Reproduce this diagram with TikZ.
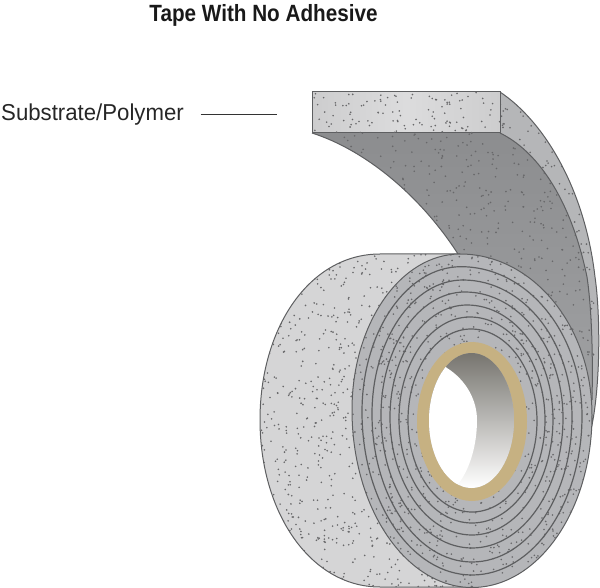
\documentclass[tikz,border=0pt]{standalone}
\usepackage{fontspec}
\setmainfont{Liberation Sans}
\newfontfamily\titlefont[FakeStretch=0.88]{Liberation Sans}
\newfontfamily\labelfont[FakeStretch=0.965]{Liberation Sans}
\begin{document}
\begin{tikzpicture}[x=1pt,y=-1pt,
  outline/.style={draw=linegray,line width=1pt},
  windline/.style={draw=linegray,line width=1.2pt},
  labeltext/.style={inner sep=0pt,anchor=base west,font=\labelfont\fontsize{23}{25}\selectfont,text=black!85},
  titletext/.style={inner sep=0pt,anchor=base,font=\titlefont\bfseries\fontsize{23.5}{25}\selectfont,text=black!90}]
\definecolor{linegray}{HTML}{5E5F61}
\definecolor{dotgray}{HTML}{68686A}
\definecolor{sidegray}{HTML}{D5D5D6}
\definecolor{ringgray}{HTML}{B5B6B9}
\definecolor{stripgray}{HTML}{B5B6B8}
\definecolor{undertop}{HTML}{8C8D8F}
\definecolor{underbot}{HTML}{A0A1A3}
\definecolor{facemid}{HTML}{DCDCDD}
\definecolor{faceend}{HTML}{CDCDCE}
\definecolor{coretan}{HTML}{C6B182}
\definecolor{holedark}{HTML}{77756F}
\useasboundingbox (0,0) rectangle (600,588);
\pgfmathsetseed{4711}
\def\specks#1#2#3#4#5{%
  \foreach \i in {1,...,#5}{%
    \pgfmathsetmacro{\px}{#1+rnd*(#3-#1)}%
    \pgfmathsetmacro{\py}{#2+rnd*(#4-#2)}%
    \fill[dotgray] (\px,\py) circle[radius=0.9];%
  }}
% one winding: top x,y / left x,y / bottom y / right x,y (bottom x is 472)
\def\blob#1#2#3#4#5#6#7{%
  (#1,#2) arc[start angle=-90,end angle=-180,x radius={#1-#3},y radius={#4-#2}]
  arc[start angle=-180,end angle=-270,x radius={472-#3},y radius={#5-#4}]
  arc[start angle=-270,end angle=-360,x radius={#6-472},y radius={#5-#7}]
  arc[start angle=-360,end angle=-450,x radius={#6-#1},y radius={#7-#2}] -- cycle}
\def\strippath{(500,92) .. controls (545,122) and (585,190) .. (595,277)
  .. controls (600,310) and (601,380) .. (592,425)
  -- (585,300) -- (500,133) -- cycle}
\def\underpath{(312,133) -- (500,133) .. controls (535,150) and (570,195) .. (587,277)
  .. controls (592,310) and (593,360) .. (592,400)
  -- (470,300) -- (458,254) .. controls (420,195) and (365,150) .. (312,133) -- cycle}
% outer part of the strip
\path[fill=stripgray,outline] \strippath;
\begin{scope}
\clip \strippath;
\specks{500}{92}{600}{425}{300}
\end{scope}
% underside of the strip
\path[top color=undertop,bottom color=underbot] \underpath;
\begin{scope}
\clip \underpath;
\specks{312}{133}{592}{400}{800}
\end{scope}
\draw[outline] (312,133) .. controls (365,150) and (420,195) .. (458,254);
\draw[outline] (500,133) .. controls (535,150) and (570,195) .. (587,277)
  .. controls (592,310) and (593,360) .. (592,400);
% top face of the strip
\path[left color=faceend,right color=faceend,middle color=facemid,outline]
  (312,92) rectangle (500,133);
\begin{scope}
\clip (312,92) rectangle (500,133);
\specks{312}{92}{500}{133}{110}
\end{scope}
% roll side
\path[fill=sidegray,outline]
  (460,254) -- (380,254) .. controls (310,254) and (260,327) .. (260,420)
  .. controls (260,512) and (310,587) .. (380,587) -- (470,587);
\begin{scope}
\clip (460,254) -- (380,254) .. controls (310,254) and (260,327) .. (260,420)
  .. controls (260,512) and (310,587) .. (380,587) -- (470,587) -- cycle;
\specks{260}{254}{472}{588}{1000}
\end{scope}
% roll front with windings
\path[fill=ringgray,outline] \blob{460}{254}{352}{410}{587.5}{592}{415};
\begin{scope}
\clip \blob{460}{254}{352}{410}{587.5}{592}{415};
\specks{352}{254}{592}{588}{1200}
\end{scope}
\foreach \tx/\ty/\lx/\ly/\by/\rx/\ry in {
  461/266.7/362/412/575/582/416,
  463/280/372/414/562/572/417,
  465/292/381/415/548/563/418,
  467/305/390/417/535/553/419,
  470/317/399/419/523/545/420,
  471/329/408/420/512/537/421}{
  \draw[windline] \blob{\tx}{\ty}{\lx}{\ly}{\by}{\rx}{\ry};
}
% core and hole
\path[fill=coretan,even odd rule] (472,421.5) ellipse[x radius=55,y radius=79.5]
  (471.5,420.5) ellipse[x radius=42.5,y radius=67.5];
\path[top color=holedark,bottom color=white] (471.5,420.5) ellipse[x radius=42.5,y radius=67.5];
\begin{scope}
\clip (471.5,420.5) ellipse[x radius=42.5,y radius=67.5];
\fill[white] (447,368) .. controls (466,380) and (477,400) .. (477,420)
  .. controls (477,445) and (470,468) .. (459,483)
  -- (400,520) -- (400,330) -- cycle;
\end{scope}
% labels
\node[titletext] (title) at (263.5,22) {Tape With No Adhesive};
\node[labeltext] (label) at (1,120.5) {Substrate/Polymer};
\coordinate (lineA) at (200.5,114.5);
\coordinate (lineB) at (277,114.5);
\draw[black!80,line width=1pt] (lineA) -- (lineB);
\end{tikzpicture}
\end{document}
